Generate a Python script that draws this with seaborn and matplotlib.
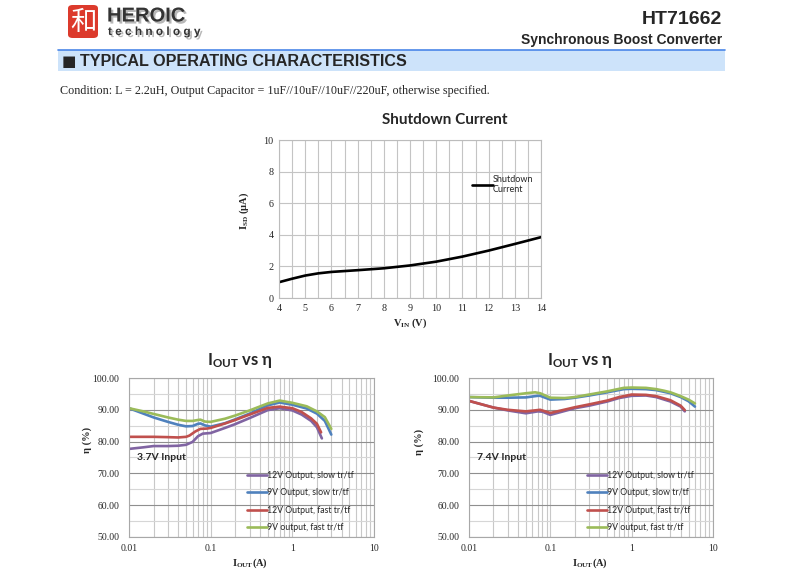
import matplotlib
matplotlib.use("Agg")
import matplotlib.pyplot as plt
import matplotlib.patheffects as pe
import seaborn as sns
from matplotlib.lines import Line2D
from matplotlib.patches import Rectangle, FancyBboxPatch
from matplotlib.ticker import FixedLocator, LogLocator, NullFormatter, FormatStrFormatter

# --- shutdown current (VIN in V, ISD in uA)
vin = [4, 4.5, 5, 5.5, 6, 7, 8, 9, 10, 11, 12, 13, 14]
isd = [1.0, 1.22, 1.42, 1.56, 1.65, 1.76, 1.88, 2.06, 2.3, 2.62, 3.0, 3.42, 3.85]

# --- efficiency, 3.7V input
p37_x = [0.01, 0.015, 0.02, 0.03, 0.04, 0.05, 0.06, 0.07, 0.08, 0.1, 0.15, 0.2, 0.3, 0.5, 0.7, 1.0, 1.3, 1.7, 2.0, 2.3]
p37_y = [77.7, 78.2, 78.6, 78.6, 78.7, 79.0, 79.9, 81.7, 82.5, 82.7, 84.3, 85.5, 87.4, 89.9, 90.5, 89.8, 88.5, 86.5, 84.5, 81.0]
b37_x = [0.01, 0.015, 0.02, 0.03, 0.04, 0.05, 0.06, 0.07, 0.075, 0.085, 0.1, 0.15, 0.2, 0.3, 0.5, 0.7, 1.0, 1.5, 2.0, 2.5, 3.0]
b37_y = [90.5, 88.8, 87.6, 86.2, 85.3, 84.8, 84.9, 85.6, 85.7, 85.1, 84.7, 85.8, 87.0, 88.8, 91.4, 92.3, 91.6, 90.4, 88.8, 86.5, 82.2]
r37_x = [0.01, 0.02, 0.03, 0.04, 0.05, 0.055, 0.065, 0.075, 0.09, 0.1, 0.15, 0.2, 0.3, 0.5, 0.7, 1.0, 1.3, 1.7, 2.0, 2.25]
r37_y = [81.5, 81.5, 81.4, 81.3, 81.5, 81.9, 83.2, 84.0, 84.1, 84.3, 85.7, 86.8, 88.5, 90.6, 91.0, 90.5, 89.3, 87.3, 85.6, 82.9]
g37_x = [0.01, 0.015, 0.02, 0.03, 0.04, 0.05, 0.06, 0.07, 0.075, 0.085, 0.1, 0.15, 0.2, 0.3, 0.5, 0.7, 1.0, 1.5, 2.0, 2.5, 3.0]
g37_y = [90.5, 89.5, 88.7, 87.6, 86.9, 86.5, 86.5, 86.8, 86.9, 86.3, 86.2, 87.2, 88.2, 89.8, 92.0, 92.9, 92.2, 91.1, 89.5, 87.7, 84.0]

# --- efficiency, 7.4V input
p74_x = [0.01, 0.02, 0.03, 0.05, 0.07, 0.08, 0.1, 0.2, 0.3, 0.5, 0.7, 1.0, 1.5, 2.0, 3.0, 4.0, 4.5]
p74_y = [92.8, 90.7, 89.8, 88.9, 89.5, 89.4, 88.4, 90.5, 91.3, 92.6, 93.7, 94.4, 94.5, 94.0, 92.6, 91.0, 89.5]
b74_x = [0.01, 0.02, 0.03, 0.05, 0.07, 0.075, 0.1, 0.15, 0.2, 0.3, 0.5, 0.8, 1.0, 1.5, 2.0, 3.0, 4.0, 5.0, 6.0]
b74_y = [94.0, 93.8, 93.8, 93.9, 94.4, 94.4, 93.2, 93.4, 93.8, 94.5, 95.5, 96.5, 96.6, 96.5, 96.2, 95.2, 94.0, 92.7, 91.0]
r74_x = [0.01, 0.02, 0.03, 0.05, 0.075, 0.1, 0.2, 0.3, 0.5, 0.7, 1.0, 1.5, 2.0, 3.0, 4.0, 4.5]
r74_y = [92.8, 90.7, 90.0, 89.5, 90.0, 89.0, 90.8, 91.7, 92.9, 94.0, 94.8, 94.7, 94.3, 93.0, 91.3, 89.9]
g74_x = [0.01, 0.02, 0.03, 0.05, 0.065, 0.075, 0.1, 0.15, 0.2, 0.3, 0.5, 0.8, 1.0, 1.5, 2.0, 2.5, 3.0, 4.0, 5.0, 6.0]
g74_y = [94.0, 93.9, 94.5, 95.2, 95.5, 95.2, 93.8, 93.7, 94.0, 94.8, 95.8, 96.9, 97.0, 96.9, 96.5, 96.0, 95.5, 94.3, 93.2, 92.0]

labels = ["12V Output, slow tr/tf", "9V Output, slow tr/tf",
          "12V Output, fast tr/tf", "9V output, fast tr/tf"]
colors = ["#8064A2", "#4F81BD", "#C0504D", "#9BBB59"]

W, H = 788, 571


def box(l, t, r, b):
    return [l / W, 1 - b / H, (r - l) / W, (b - t) / H]


def ftxt(x, y, s, **kw):
    return fig.text(x / W, 1 - y / H, s, **kw)


sns.set_style("white")
plt.rcParams["font.family"] = ["Liberation Sans", "DejaVu Sans"]
plt.rcParams["mathtext.fontset"] = "custom"
plt.rcParams["mathtext.rm"] = "Liberation Serif"
plt.rcParams["mathtext.bf"] = "Liberation Serif:bold"
plt.rcParams["mathtext.sf"] = "Lato:bold"

SERIF = ["Liberation Serif", "DejaVu Serif"]
CAL = ["Lato", "DejaVu Sans"]

fig = plt.figure(figsize=(7.88, 5.71), dpi=100)

# ---------------- header ----------------
fig.patches.append(FancyBboxPatch((68 / W, 1 - 38 / H), 30 / W, 33 / H,
                                  boxstyle="round,pad=0,rounding_size=0.006",
                                  transform=fig.transFigure, fc="#dc3a2c", ec="none"))
ftxt(83, 22, "和", color="white", fontsize=19, ha="center", va="center",
     family=["Noto Sans CJK SC", "DejaVu Sans"])
shadow = [pe.SimplePatchShadow(offset=(1.5, -1.5), shadow_rgbFace="#888888", alpha=0.6), pe.Normal()]
ftxt(107, 16, "HEROIC", fontsize=14.5, weight="bold", color="#333333", va="center",
     path_effects=shadow)
ftxt(108, 32, "t e c h n o l o g y", fontsize=8.5, weight="bold", color="#333333", va="center",
     path_effects=shadow)
ftxt(722, 20, "HT71662", fontsize=14, weight="bold", ha="right", va="center")
ftxt(722, 40, "Synchronous Boost Converter", fontsize=10, weight="bold", ha="right", va="center")

fig.add_artist(Line2D([58 / W, 725 / W], [1 - 49.5 / H] * 2, color="#4a86e8", lw=1.2))
fig.patches.append(Rectangle((58 / W, 1 - 71 / H), 667 / W, 21 / H,
                             transform=fig.transFigure, fc="#cde3fa", ec="none"))
ftxt(62, 61, "■", fontsize=11, va="center", family=["DejaVu Sans"])
ftxt(80, 61, "TYPICAL OPERATING CHARACTERISTICS", fontsize=11.6, weight="bold", va="center")
ftxt(60, 91, "Condition: L = 2.2uH, Output Capacitor = 1uF//10uF//10uF//220uF, otherwise specified.",
     fontsize=8.7, va="center", family=SERIF)

# ---------------- shutdown current ----------------
ax0 = fig.add_axes(box(279, 140, 541, 298))
sns.lineplot(x=vin, y=isd, ax=ax0, color="black", lw=1.9, label="Shutdown\nCurrent")
ax0.set_xlim(4, 14)
ax0.set_ylim(0, 10)
ax0.set_xticks(range(4, 15))
ax0.set_yticks(range(0, 11, 2))
ax0.xaxis.set_minor_locator(FixedLocator([v + 0.5 for v in range(4, 14)]))
ax0.grid(which="both", color="#c4c4c4", lw=0.8)
ax0.tick_params(which="both", length=0, labelsize=7.3)
ax0.tick_params(axis="y", pad=4)
ax0.tick_params(axis="x", pad=4)
for t in ax0.get_xticklabels() + ax0.get_yticklabels():
    t.set_family(SERIF)
for s in ax0.spines.values():
    s.set_color("#bcbcbc")
    s.set_linewidth(0.8)
ax0.set_xlabel(r"$\mathbf{V_{IN}}$ (V)", fontsize=7.5, weight="bold", family=SERIF)
ax0.set_ylabel(r"$\mathbf{I_{SD}}$ (µA)", fontsize=7.5, weight="bold", family=SERIF)
ax0.xaxis.set_label_coords(0.5, -0.12)
ax0.yaxis.set_label_coords(-0.105, 0.55)
ax0.legend(loc="upper left", bbox_to_anchor=(0.72, 0.81), frameon=False, borderpad=0,
           handlelength=2.3, handletextpad=0, prop={"family": CAL, "size": 6.5})
ftxt(445, 120, "Shutdown Current", fontsize=11, weight="bold", ha="center", va="center", family=CAL)


# ---------------- efficiency charts ----------------
def eff_chart(ax, series, note, leg_x):
    for (xs, ys), lab, col in zip(series, labels, colors):
        sns.lineplot(x=xs, y=ys, ax=ax, color=col, lw=1.9, label=lab)
    ax.set_xscale("log")
    ax.set_xlim(0.01, 10)
    ax.set_ylim(50, 100)
    ax.set_yticks(range(50, 101, 10))
    ax.yaxis.set_minor_locator(FixedLocator(range(55, 100, 10)))
    ax.yaxis.set_major_formatter(FormatStrFormatter("%.2f"))
    ax.set_xticks([0.01, 0.1, 1, 10])
    ax.set_xticklabels(["0.01", "0.1", "1", "10"])
    ax.xaxis.set_minor_locator(LogLocator(base=10, subs=range(2, 10)))
    ax.xaxis.set_minor_formatter(NullFormatter())
    ax.grid(which="major", axis="y", color="#8f8f8f", lw=0.8)
    ax.grid(which="minor", axis="y", color="#d6d6d6", lw=0.8)
    ax.grid(which="both", axis="x", color="#c8c8c8", lw=0.8)
    ax.tick_params(which="both", length=0, labelsize=7)
    ax.tick_params(axis="y", pad=7)
    ax.tick_params(axis="x", pad=5)
    for t in ax.get_xticklabels() + ax.get_yticklabels():
        t.set_family(SERIF)
    for s in ax.spines.values():
        s.set_color("#a8a8a8")
        s.set_linewidth(0.8)
    ax.set_xlabel(r"$\mathbf{I_{OUT}}$(A)", fontsize=7.5, weight="bold", family=SERIF)
    ax.set_ylabel("η (%)", fontsize=7.5, weight="bold", family=SERIF)
    ax.xaxis.set_label_coords(0.495, -0.12)
    ax.text(0.0125, 75, note, fontsize=7.5, weight="bold", va="center", family=CAL)
    ax.legend(loc="upper left", bbox_to_anchor=(leg_x, 0.445), frameon=False, borderpad=0,
              handlelength=2.2, handletextpad=0, labelspacing=0.98,
              prop={"family": CAL, "size": 6.3})


ax1 = fig.add_axes(box(129, 378, 374, 537))
eff_chart(ax1, [(p37_x, p37_y), (b37_x, b37_y), (r37_x, r37_y), (g37_x, g37_y)],
          "3.7V Input", 0.465)
ax1.yaxis.set_label_coords(-0.15, 0.61)
ftxt(240, 360, r"$\mathsf{I_{OUT}}$ vs η", fontsize=12, weight="bold", ha="center", va="center", family=CAL)

ax2 = fig.add_axes(box(469, 378, 713, 537))
eff_chart(ax2, [(p74_x, p74_y), (b74_x, b74_y), (r74_x, r74_y), (g74_x, g74_y)],
          "7.4V Input", 0.467)
ax2.yaxis.set_label_coords(-0.185, 0.6)
ftxt(580, 360, r"$\mathsf{I_{OUT}}$ vs η", fontsize=12, weight="bold", ha="center", va="center", family=CAL)

fig.savefig("out.png", dpi=100)
